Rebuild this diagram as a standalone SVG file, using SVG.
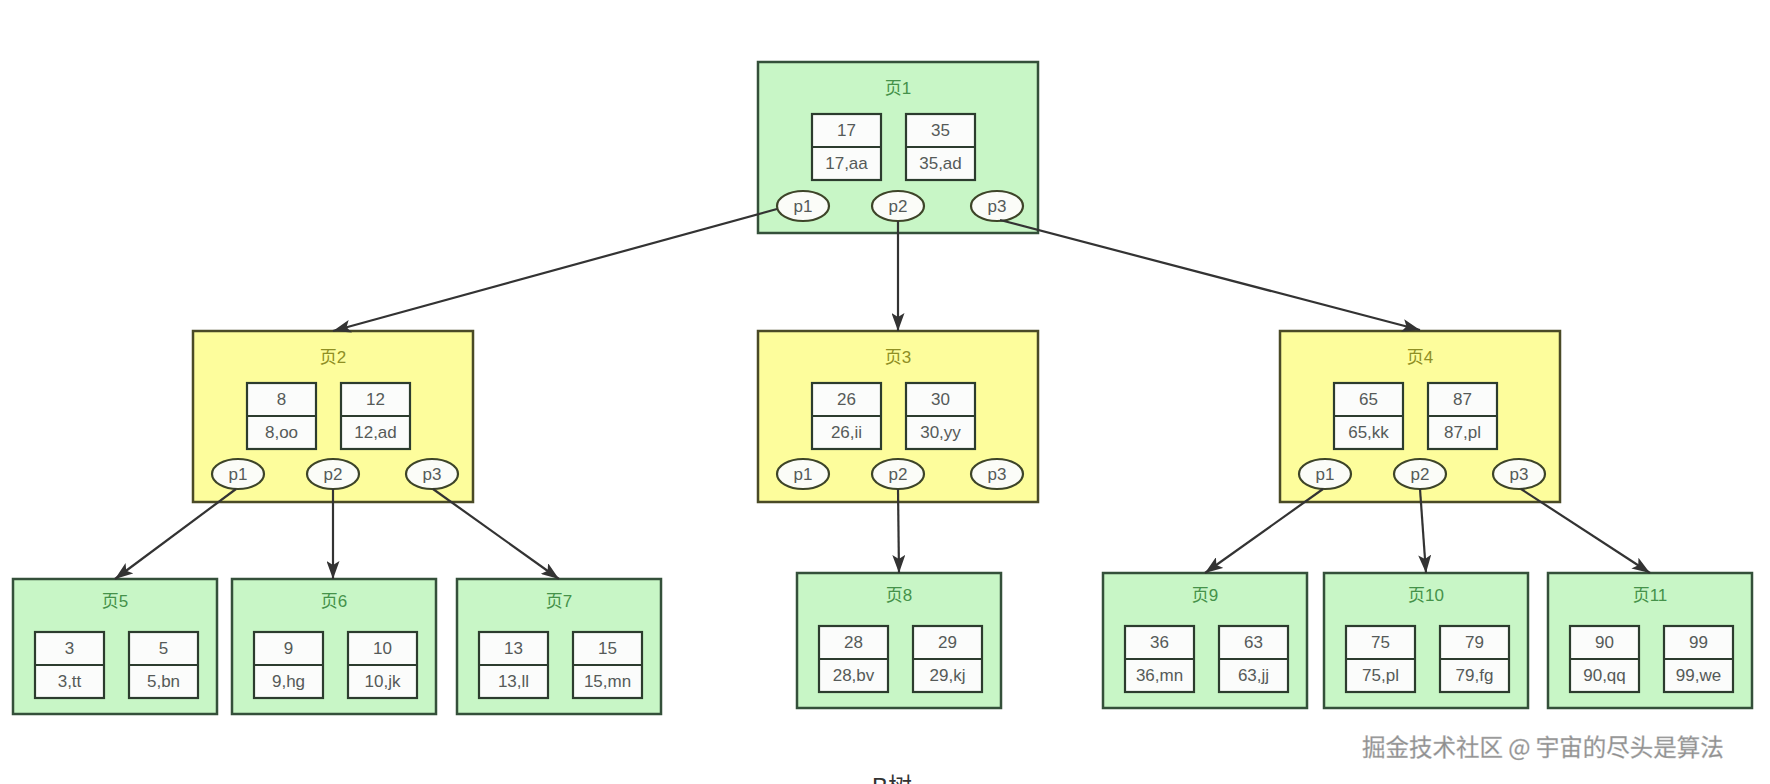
<svg xmlns="http://www.w3.org/2000/svg" width="1770" height="784" viewBox="0 0 1770 784">
<style>
text{font-family:"Liberation Sans","Noto Sans CJK SC",sans-serif;font-size:17px;text-anchor:middle;}
.pg{fill:#c8f6c6;stroke:#34503a;stroke-width:2.5;}
.py{fill:#fdfd9c;stroke:#4a4a26;stroke-width:2.5;}
.tg{fill:#45924a;}
.ty{fill:#8f8f24;}
.key{fill:#fbfcfb;stroke:#2c3c2e;stroke-width:2.2;}
.div{stroke:#2c3c2e;stroke-width:2.2;}
.kt{fill:#555a58;}
.el{fill:#fbfcf8;stroke:#3d4428;stroke-width:2.2;}
.conn{fill:none;stroke:#333;stroke-width:2.2;}
.wm{font-family:"Noto Sans CJK SC",sans-serif;font-size:23.5px;text-anchor:start;fill:#8e8e8e;stroke:#bdbdbd;stroke-width:0.4;}
.cap{font-family:"Liberation Sans","Noto Sans CJK SC",sans-serif;font-size:24px;fill:#333;}
</style>
<defs>
<marker id="arr" markerUnits="userSpaceOnUse" markerWidth="18" markerHeight="13" refX="18" refY="6.5" orient="auto">
<path d="M0,0 L18,6.5 L0,13 L4,6.5 z" fill="#333"/>
</marker>
</defs>

<g id="page1" transform="translate(758,62)">
<rect class="pg" x="0" y="0" width="280" height="171"/>
<text class="tg" x="140" y="32">页1</text>
<rect class="key" x="54" y="52" width="69" height="66"/><line class="div" x1="54" y1="85" x2="123" y2="85"/>
<text class="kt" x="88.5" y="74">17</text><text class="kt" x="88.5" y="107">17,aa</text>
<rect class="key" x="148" y="52" width="69" height="66"/><line class="div" x1="148" y1="85" x2="217" y2="85"/>
<text class="kt" x="182.5" y="74">35</text><text class="kt" x="182.5" y="107">35,ad</text>
<ellipse class="el" cx="45" cy="144" rx="26" ry="15"/><text class="kt" x="45" y="150">p1</text>
<ellipse class="el" cx="140" cy="144" rx="26" ry="15"/><text class="kt" x="140" y="150">p2</text>
<ellipse class="el" cx="239" cy="144" rx="26" ry="15"/><text class="kt" x="239" y="150">p3</text>
</g>

<g id="page2" transform="translate(193,331)">
<rect class="py" x="0" y="0" width="280" height="171"/>
<text class="ty" x="140" y="32">页2</text>
<rect class="key" x="54" y="52" width="69" height="66"/><line class="div" x1="54" y1="85" x2="123" y2="85"/>
<text class="kt" x="88.5" y="74">8</text><text class="kt" x="88.5" y="107">8,oo</text>
<rect class="key" x="148" y="52" width="69" height="66"/><line class="div" x1="148" y1="85" x2="217" y2="85"/>
<text class="kt" x="182.5" y="74">12</text><text class="kt" x="182.5" y="107">12,ad</text>
<ellipse class="el" cx="45" cy="143" rx="26" ry="15"/><text class="kt" x="45" y="149">p1</text>
<ellipse class="el" cx="140" cy="143" rx="26" ry="15"/><text class="kt" x="140" y="149">p2</text>
<ellipse class="el" cx="239" cy="143" rx="26" ry="15"/><text class="kt" x="239" y="149">p3</text>
</g>

<g id="page3" transform="translate(758,331)">
<rect class="py" x="0" y="0" width="280" height="171"/>
<text class="ty" x="140" y="32">页3</text>
<rect class="key" x="54" y="52" width="69" height="66"/><line class="div" x1="54" y1="85" x2="123" y2="85"/>
<text class="kt" x="88.5" y="74">26</text><text class="kt" x="88.5" y="107">26,ii</text>
<rect class="key" x="148" y="52" width="69" height="66"/><line class="div" x1="148" y1="85" x2="217" y2="85"/>
<text class="kt" x="182.5" y="74">30</text><text class="kt" x="182.5" y="107">30,yy</text>
<ellipse class="el" cx="45" cy="143" rx="26" ry="15"/><text class="kt" x="45" y="149">p1</text>
<ellipse class="el" cx="140" cy="143" rx="26" ry="15"/><text class="kt" x="140" y="149">p2</text>
<ellipse class="el" cx="239" cy="143" rx="26" ry="15"/><text class="kt" x="239" y="149">p3</text>
</g>

<g id="page4" transform="translate(1280,331)">
<rect class="py" x="0" y="0" width="280" height="171"/>
<text class="ty" x="140" y="32">页4</text>
<rect class="key" x="54" y="52" width="69" height="66"/><line class="div" x1="54" y1="85" x2="123" y2="85"/>
<text class="kt" x="88.5" y="74">65</text><text class="kt" x="88.5" y="107">65,kk</text>
<rect class="key" x="148" y="52" width="69" height="66"/><line class="div" x1="148" y1="85" x2="217" y2="85"/>
<text class="kt" x="182.5" y="74">87</text><text class="kt" x="182.5" y="107">87,pl</text>
<ellipse class="el" cx="45" cy="143" rx="26" ry="15"/><text class="kt" x="45" y="149">p1</text>
<ellipse class="el" cx="140" cy="143" rx="26" ry="15"/><text class="kt" x="140" y="149">p2</text>
<ellipse class="el" cx="239" cy="143" rx="26" ry="15"/><text class="kt" x="239" y="149">p3</text>
</g>

<g id="page5" transform="translate(13,579)">
<rect class="pg" x="0" y="0" width="204" height="135"/>
<text class="tg" x="102" y="28">页5</text>
<rect class="key" x="22" y="53" width="69" height="66"/><line class="div" x1="22" y1="86" x2="91" y2="86"/>
<text class="kt" x="56.5" y="75">3</text><text class="kt" x="56.5" y="108">3,tt</text>
<rect class="key" x="116" y="53" width="69" height="66"/><line class="div" x1="116" y1="86" x2="185" y2="86"/>
<text class="kt" x="150.5" y="75">5</text><text class="kt" x="150.5" y="108">5,bn</text>
</g>

<g id="page6" transform="translate(232,579)">
<rect class="pg" x="0" y="0" width="204" height="135"/>
<text class="tg" x="102" y="28">页6</text>
<rect class="key" x="22" y="53" width="69" height="66"/><line class="div" x1="22" y1="86" x2="91" y2="86"/>
<text class="kt" x="56.5" y="75">9</text><text class="kt" x="56.5" y="108">9,hg</text>
<rect class="key" x="116" y="53" width="69" height="66"/><line class="div" x1="116" y1="86" x2="185" y2="86"/>
<text class="kt" x="150.5" y="75">10</text><text class="kt" x="150.5" y="108">10,jk</text>
</g>

<g id="page7" transform="translate(457,579)">
<rect class="pg" x="0" y="0" width="204" height="135"/>
<text class="tg" x="102" y="28">页7</text>
<rect class="key" x="22" y="53" width="69" height="66"/><line class="div" x1="22" y1="86" x2="91" y2="86"/>
<text class="kt" x="56.5" y="75">13</text><text class="kt" x="56.5" y="108">13,ll</text>
<rect class="key" x="116" y="53" width="69" height="66"/><line class="div" x1="116" y1="86" x2="185" y2="86"/>
<text class="kt" x="150.5" y="75">15</text><text class="kt" x="150.5" y="108">15,mn</text>
</g>

<g id="page8" transform="translate(797,573)">
<rect class="pg" x="0" y="0" width="204" height="135"/>
<text class="tg" x="102" y="28">页8</text>
<rect class="key" x="22" y="53" width="69" height="66"/><line class="div" x1="22" y1="86" x2="91" y2="86"/>
<text class="kt" x="56.5" y="75">28</text><text class="kt" x="56.5" y="108">28,bv</text>
<rect class="key" x="116" y="53" width="69" height="66"/><line class="div" x1="116" y1="86" x2="185" y2="86"/>
<text class="kt" x="150.5" y="75">29</text><text class="kt" x="150.5" y="108">29,kj</text>
</g>

<g id="page9" transform="translate(1103,573)">
<rect class="pg" x="0" y="0" width="204" height="135"/>
<text class="tg" x="102" y="28">页9</text>
<rect class="key" x="22" y="53" width="69" height="66"/><line class="div" x1="22" y1="86" x2="91" y2="86"/>
<text class="kt" x="56.5" y="75">36</text><text class="kt" x="56.5" y="108">36,mn</text>
<rect class="key" x="116" y="53" width="69" height="66"/><line class="div" x1="116" y1="86" x2="185" y2="86"/>
<text class="kt" x="150.5" y="75">63</text><text class="kt" x="150.5" y="108">63,jj</text>
</g>

<g id="page10" transform="translate(1324,573)">
<rect class="pg" x="0" y="0" width="204" height="135"/>
<text class="tg" x="102" y="28">页10</text>
<rect class="key" x="22" y="53" width="69" height="66"/><line class="div" x1="22" y1="86" x2="91" y2="86"/>
<text class="kt" x="56.5" y="75">75</text><text class="kt" x="56.5" y="108">75,pl</text>
<rect class="key" x="116" y="53" width="69" height="66"/><line class="div" x1="116" y1="86" x2="185" y2="86"/>
<text class="kt" x="150.5" y="75">79</text><text class="kt" x="150.5" y="108">79,fg</text>
</g>

<g id="page11" transform="translate(1548,573)">
<rect class="pg" x="0" y="0" width="204" height="135"/>
<text class="tg" x="102" y="28">页11</text>
<rect class="key" x="22" y="53" width="69" height="66"/><line class="div" x1="22" y1="86" x2="91" y2="86"/>
<text class="kt" x="56.5" y="75">90</text><text class="kt" x="56.5" y="108">90,qq</text>
<rect class="key" x="116" y="53" width="69" height="66"/><line class="div" x1="116" y1="86" x2="185" y2="86"/>
<text class="kt" x="150.5" y="75">99</text><text class="kt" x="150.5" y="108">99,we</text>
</g>

<g id="connectors">
<path class="conn" marker-end="url(#arr)" d="M777,209 L333,331"/>
<path class="conn" marker-end="url(#arr)" d="M898,221 L898,331"/>
<path class="conn" marker-end="url(#arr)" d="M1000,220 L1420,330"/>
<path class="conn" marker-end="url(#arr)" d="M236,489 L115,579"/>
<path class="conn" marker-end="url(#arr)" d="M333,489 L333,579"/>
<path class="conn" marker-end="url(#arr)" d="M433,489 L559,579"/>
<path class="conn" marker-end="url(#arr)" d="M898,489 L899,573"/>
<path class="conn" marker-end="url(#arr)" d="M1323,489 L1205,573"/>
<path class="conn" marker-end="url(#arr)" d="M1420,489 L1426,573"/>
<path class="conn" marker-end="url(#arr)" d="M1521,489 L1650,573"/>
</g>

<text class="wm" x="1362" y="756">掘金技术社区 @ 宇宙的尽头是算法</text>
<text class="cap" x="892" y="795">B树</text>
</svg>
